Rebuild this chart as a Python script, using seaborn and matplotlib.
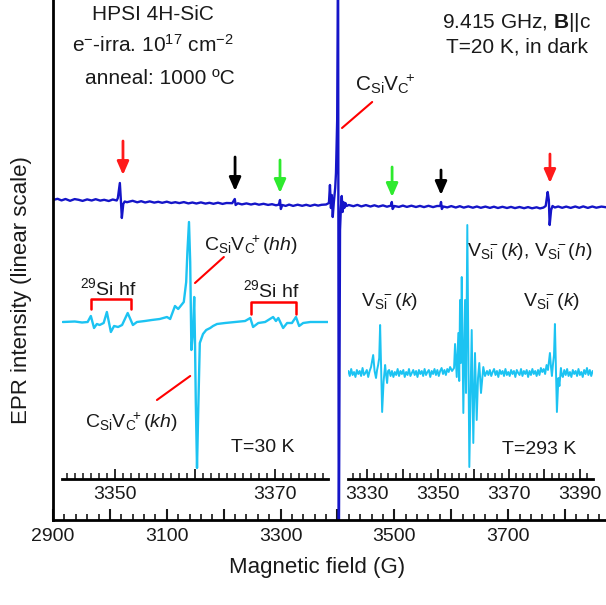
import numpy as np
import pandas as pd
import matplotlib
matplotlib.use('Agg')
import matplotlib.pyplot as plt
from matplotlib.ticker import MultipleLocator
import seaborn as sns

# main spectrum, T=20 K (field in G, signal in arbitrary units)
main_field = [2900, 2908, 2915, 2922, 2930, 2938, 2945, 2952, 2960, 2968,
              2975, 2983, 2990, 2998, 3005, 3012, 3014,
              3017.5, 3019.3, 3021, 3023.5, 3026, 3030, 3040, 3048, 3055, 3062, 3070, 3078, 3085,
              3092, 3100, 3108, 3115, 3122, 3130, 3138, 3145, 3152, 3160, 3168, 3175, 3182, 3190,
              3198, 3205, 3215, 3219.5,
              3221, 3225, 3232, 3240, 3248, 3255, 3262, 3270, 3278, 3285, 3292, 3297, 3299, 3300.5, 3303,
              3309, 3315, 3322, 3330, 3338, 3345, 3352, 3360, 3366, 3372, 3380, 3385, 3386.8, 3388.5, 3390,
              3391.7, 3393.5, 3396, 3397.4, 3399.5, 3401.1, 3402.3, 3404.5, 3406, 3407.5,
              3409, 3410.5, 3412, 3414, 3416, 3420, 3428, 3435, 3442, 3450, 3458, 3465, 3472, 3480,
              3487, 3494, 3495.5, 3497, 3500, 3508, 3515, 3522, 3530, 3538, 3545, 3552, 3560, 3568,
              3575, 3580.6,
              3582, 3583.5, 3586, 3593, 3600, 3608, 3615, 3622, 3630, 3638, 3645, 3652, 3660, 3668,
              3675, 3682, 3690, 3698,
              3705, 3712, 3720, 3728, 3735, 3742, 3750, 3756, 3762, 3766, 3769.5, 3771.5, 3773, 3775.5,
              3778, 3782, 3788, 3795, 3802, 3810, 3818, 3825, 3832, 3840, 3848, 3855, 3864, 3874]
main_signal = [0, 1.2, -0.4, 1, -0.8, 0.9, 0.2, -0.9, 0.6, -0.5,
               0.8, -0.6, 0.2, -1, 0.5, -0.5, 2,
               17, 0, -18, -4, -1.5, -2.2, -0.8, -2.3, -1.2, -2.5, -1.4, -2.6, -1.8,
               -2.8, -1.7, -3, -2.2, -3.1, -2.1, -3.4, -2.5, -3.5, -2.4, -3.6, -2.8, -3.8, -2.7,
               -3.9, -3, -3.2, 1,
               -5, -3.3, -4.4, -3.4, -4.5, -3.6, -4.7, -3.8, -4.9, -4.2, -5.3, -4.6, 0, -9, -5,
               -5.9, -4.6, -5.9, -4.7, -5.8, -4.8, -5.9, -4.7, -5.6, -4.8, -4.5, -3, 15, -8, 5,
               -17, -3, 12, 27, 80, 260, -380, -30, -8, 4,
               -12, -2, -8, -3, -6, -5, -6.2, -4.9, -6.4, -5.1, -6.5, -5.3, -6.6, -5.4,
               -6.7, -5.6, -2, -9, -6, -6.9, -5.6, -6.9, -5.7, -7, -5.9, -7.1, -5.8, -7.1,
               -6, -6,
               -2, -9, -6.5, -7.4, -6.1, -7.5, -6.2, -7.6, -6.4, -7.7, -6.5, -7.8, -6.6, -7.9,
               -6.7, -8, -6.8, -8,
               -6.9, -8.1, -7, -8.2, -7.1, -8.3, -7.3, -8.4, -7.6, -6, 8, 0, -25, -10,
               -6, -7.5, -6.5, -7.8, -6.6, -7.9, -6.5, -7.8, -6.4, -7.9, -6.5, -7.7, -6.6, -7.4]

# inset 1, T=30 K
lt_field = [3343.5, 3345.0, 3345.9, 3346.6, 3347.0, 3347.4, 3347.75, 3348.1, 3348.6, 3349.0,
            3349.5, 3349.9, 3350.4, 3350.9, 3351.6, 3352.25, 3352.75, 3353.75, 3354.6, 3355.6,
            3356.5, 3356.9, 3357.5, 3357.9, 3358.1, 3358.6, 3358.9, 3359.05, 3359.25, 3359.4,
            3359.55, 3359.75, 3359.9, 3360.0, 3360.1, 3360.25, 3360.4, 3360.6, 3361.0, 3361.4,
            3361.9, 3362.25, 3362.75, 3363.75, 3365.0, 3366.25, 3366.9, 3367.25, 3367.9, 3368.75,
            3369.75, 3370.1, 3370.4, 3371.0, 3371.5, 3372.1, 3372.6, 3373.0, 3373.5, 3374.4,
            3375.6, 3376.6]
lt_signal = [0, 0.5, -0.5, 0, 6, -6, -2, -3, -1, 10,
             -10, -4, -5, -3, 9, -3, 0, 1, 2, 3,
             5, 3, 16, 13, 15, 20, 40, 70, 100, 60,
             -28, -10, 25, -20, -80, -146, -90, -21, -12, -8,
             -6, -4, -2, -1, 0, 1, 4, -5, -1, 0,
             5, 1, 4, -6, -1, -1, 5, -4, -1, 0,
             0, 0]

# inset 2, T=293 K
rt_field = [3324.7, 3325.1, 3325.5, 3325.9, 3326.3, 3326.7, 3327.1, 3327.5, 3327.9, 3328.3,
            3328.7, 3329.1, 3329.5, 3329.9, 3330.3, 3330.7, 3331.1,
            3331.7, 3332.1, 3332.5, 3332.8, 3333.1, 3333.4, 3333.66, 3333.94, 3334.23, 3334.65,
            3335.07, 3335.35, 3335.63, 3335.9, 3336.2,
            3336.6, 3337.0, 3337.4, 3337.8, 3338.2, 3338.6, 3339.0, 3339.4, 3339.8, 3340.2,
            3340.6, 3341.0, 3341.4, 3341.8, 3342.2, 3342.6, 3343.0, 3343.4, 3343.8, 3344.2,
            3344.6, 3345.0, 3345.4, 3345.8, 3346.2, 3346.6, 3347.0, 3347.4, 3347.8, 3348.2,
            3348.6, 3349.0, 3349.4, 3349.8, 3350.2, 3350.6, 3351.0, 3351.4, 3351.8, 3352.2,
            3352.6, 3353.0, 3353.4,
            3353.94, 3354.51, 3354.79, 3355.27, 3355.72, 3355.97, 3356.20, 3356.42, 3356.68, 3357.13,
            3357.61, 3357.89, 3358.25, 3358.82, 3359.49, 3359.94, 3360.42, 3360.90, 3361.27, 3361.63,
            3362.11, 3362.76, 3363.24, 3363.80,
            3364.2, 3364.6, 3365.0, 3365.4, 3365.8, 3366.2, 3366.6, 3367.0, 3367.4, 3367.8,
            3368.2, 3368.6, 3369.0, 3369.4, 3369.8, 3370.2, 3370.6, 3371.0, 3371.4, 3371.8,
            3372.2, 3372.6, 3373.0, 3373.4, 3373.8, 3374.2, 3374.6, 3375.0, 3375.4, 3375.8,
            3376.2, 3376.6, 3377.0, 3377.4, 3377.8, 3378.2, 3378.6, 3379.0, 3379.4, 3379.8,
            3380.2, 3380.6, 3381.0,
            3381.55, 3381.85, 3382.11, 3382.39, 3382.7, 3382.96, 3383.24, 3383.52, 3383.94, 3384.23,
            3384.65, 3384.9, 3385.2,
            3385.6, 3386.0, 3386.4, 3386.8, 3387.2, 3387.6, 3388.0, 3388.4, 3388.8, 3389.2,
            3389.6, 3390.0, 3390.4, 3390.8, 3391.2, 3391.6, 3392.0, 3392.4, 3392.8, 3393.2,
            3393.6]
rt_signal = [2, -3, 4, -2, 1, -4, 3, -1, 2, -3,
             5, -2, 0, 3, -4, 2, 6,
             18, 2, -5, 3, 8, 15, 48, 5, -39, -8,
             8, -2, -10, 2, 3,
             -3, 2, -4, 1, -2, 4, -3, 2, -1, 3,
             -4, 1, -2, 4, -3, 0, 3, -2, 2, -4,
             3, -1, 2, -3, 4, -2, 1, 3, -4, 2,
             -1, 4, -2, 3, -3, 2, 5, -1, 3, -2,
             4, 1, 6,
             2, 5, 29, -4, 40, -8, 73, 10, 96, -40,
             73, -20, 148, -94, 43, -70, 20, -47, -5, 10,
             -20, 6, -3, 2,
             -2, 3, -3, 1, 4, -2, 2, -4, 3, -1,
             2, -3, 4, -2, 1, -3, 3, -1, 2, -4,
             3, 0, -2, 4, -3, 2, -1, 3, -4, 2,
             -2, 4, -1, 2, -3, 3, -2, 5, 1, 4,
             -1, 8, 3,
             20, 6, -3, 8, 18, 49, 5, -39, -5, -13,
             5, -2, -4,
             3, -2, 4, -3, 1, -4, 3, -1, 2, -3,
             4, -2, 1, -4, 3, -1, 5, -2, 3, -3,
             2]

main_ticks = [2900, 3000, 3100, 3200, 3300, 3400, 3500, 3600, 3700, 3800]
main_labels = ['2900', '', '3100', '', '3300', '', '3500', '', '3700', '']
lt_ticks = [3350, 3360, 3370]
lt_labels = ['3350', '', '3370']
rt_ticks = [3330, 3340, 3350, 3360, 3370, 3380, 3390]
rt_labels = ['3330', '', '3350', '', '3370', '', '3390']

# arrows: (field, tail, tip, colour)
arrow_field = [3023, 3220, 3299, 3496, 3582, 3773.5]
arrow_tail = [59, 43, 40, 33, 30, 46]
arrow_tip = [25, 9, 7, 3, 5, 17]
arrow_color = ['#ff1a1a', 'black', '#2eea2e', '#2eea2e', 'black', '#ff1a1a']

sns.set_style('ticks')
plt.rcParams['font.family'] = ['Liberation Sans', 'DejaVu Sans']
plt.rcParams['mathtext.fontset'] = 'custom'
plt.rcParams['mathtext.rm'] = 'Liberation Sans'
plt.rcParams['mathtext.it'] = 'Liberation Sans:italic'
plt.rcParams['mathtext.bf'] = 'Liberation Sans:bold'

dark_blue = '#1515c8'
light_blue = '#1cc3f2'
txt = '#1a1a1a'

csv = r'C$_\mathrm{Si}$V$_\mathrm{C}\!\!{}^+$'
# labels followed by a bracket, kept in one math block so no gap opens
csv_b = r'C$_\mathrm{Si}$V$_\mathrm{C}\!\!{}^+\mathrm{(}\mathit{%s}\mathrm{)}$'
vsi_b = r'V$_\mathrm{Si}\!\!{}^-\mathrm{(}\mathit{%s}\mathrm{)}$'

fig = plt.figure(figsize=(6.06, 6.05), dpi=100)
ax = fig.add_axes([53/606, 85/605, 553/606, 520/605])

df_main = pd.DataFrame({'field': main_field, 'signal': main_signal})
sns.lineplot(data=df_main, x='field', y='signal', ax=ax, color=dark_blue,
             lw=1.7, sort=False, estimator=None)
ax.set_xlim(2900, 3872)
ax.set_ylim(-320, 200)
ax.set_xticks(main_ticks)
ax.set_xticklabels(main_labels)
ax.xaxis.set_minor_locator(MultipleLocator(20))
ax.tick_params(axis='x', which='major', direction='in', length=8, width=1.5,
               labelsize=14, pad=6, colors=txt)
ax.tick_params(axis='x', which='minor', direction='in', length=4.5, width=1.3)
ax.tick_params(axis='y', left=False, labelleft=False)
ax.set_xlabel('')
ax.set_ylabel('')
for s in ['top', 'right']:
    ax.spines[s].set_visible(False)
for s in ['left', 'bottom']:
    ax.spines[s].set_linewidth(2)
    ax.spines[s].set_color('black')

for f, t0, t1, c in zip(arrow_field, arrow_tail, arrow_tip, arrow_color):
    ax.annotate('', xy=(f, t1), xytext=(f, t0),
                arrowprops=dict(arrowstyle='-|>,head_length=0.8,head_width=0.35',
                                color=c, lw=2, shrinkA=0, shrinkB=0))

ax.text(3075, 185, 'HPSI 4H-SiC', ha='center', va='center', fontsize=15, color=txt)
ax.text(3075, 155, r'e$^{-}$-irra. 10$^{17}$ cm$^{-2}$', ha='center', va='center',
        fontsize=15, color=txt)
ax.text(3088, 122, 'anneal: 1000 ºC', ha='center', va='center', fontsize=15, color=txt)
ax.text(3715, 177, r'9.415 GHz, $\mathbf{B}$||c', ha='center', va='center',
        fontsize=15, color=txt)
ax.text(3715, 153, 'T=20 K, in dark', ha='center', va='center', fontsize=15, color=txt)
ax.text(3484, 116, csv, ha='center', va='center', fontsize=15, color=txt)
ax.plot([3408, 3461], [72, 98], color='red', lw=1.5)

fig.text(22/606, 1 - 290/605, 'EPR intensity (linear scale)', rotation=90,
         ha='center', va='center', fontsize=16, color=txt)
fig.text(317/606, 1 - 568/605, 'Magnetic field (G)', ha='center', va='center',
         fontsize=16, color=txt)

# left inset
ax1 = fig.add_axes([62/606, 126/605, 266/606, 264/605])
ax1.set_facecolor('none')
df_lt = pd.DataFrame({'field': lt_field, 'signal': lt_signal})
sns.lineplot(data=df_lt, x='field', y='signal', ax=ax1, color=light_blue,
             lw=1.7, sort=False, estimator=None)
ax1.set_xlim(3343.4, 3376.6)
ax1.set_ylim(-157, 107)

ax1.text(3349.25, 34, r'$^{29}$Si hf', ha='center', va='center', fontsize=14, color=txt)
ax1.plot([3347.0, 3347.0, 3352.0, 3352.0], [13, 23, 23, 13], color='red', lw=1.8)
ax1.text(3369.6, 32, r'$^{29}$Si hf', ha='center', va='center', fontsize=14, color=txt)
ax1.plot([3367.0, 3367.0, 3372.6, 3372.6], [8, 20, 20, 8], color='red', lw=1.8)
ax1.text(3367.0, 77, csv_b % 'hh', ha='center', va='center', fontsize=14, color=txt)
ax1.plot([3360.0, 3363.6], [39, 65], color='red', lw=1.5)
ax1.text(3352.0, -100, csv_b % 'kh', ha='center', va='center', fontsize=14, color=txt)
ax1.plot([3355.25, 3359.4], [-78, -54], color='red', lw=1.5)
ax1.text(3368.5, -126, 'T=30 K', ha='center', va='center', fontsize=14, color=txt)

# right inset
ax2 = fig.add_axes([348/606, 126/605, 245/606, 264/605])
ax2.set_facecolor('none')
df_rt = pd.DataFrame({'field': rt_field, 'signal': rt_signal})
sns.lineplot(data=df_rt, x='field', y='signal', ax=ax2, color=light_blue,
             lw=1.4, sort=False, estimator=None)
ax2.set_xlim(3324.6, 3393.7)
ax2.set_ylim(-106, 158)

ax2.text(3375.9, 121, vsi_b % 'k' + ', ' + vsi_b % 'h',
         ha='center', va='center', fontsize=14, color=txt)
ax2.text(3336.2, 72, vsi_b % 'k', ha='center', va='center', fontsize=14, color=txt)
ax2.text(3382.1, 72, vsi_b % 'k', ha='center', va='center', fontsize=14, color=txt)
ax2.text(3378.5, -76, 'T=293 K', ha='center', va='center', fontsize=14, color=txt)

for a, ticks, labels, minor in [(ax1, lt_ticks, lt_labels, 1), (ax2, rt_ticks, rt_labels, 2)]:
    a.set_xticks(ticks)
    a.set_xticklabels(labels)
    a.xaxis.set_minor_locator(MultipleLocator(minor))
    a.tick_params(axis='x', which='major', direction='in', length=7, width=1.3,
                  labelsize=14, pad=5, colors=txt)
    a.tick_params(axis='x', which='minor', direction='in', length=4, width=1.2)
    a.tick_params(axis='y', left=False, labelleft=False)
    a.set_xlabel('')
    a.set_ylabel('')
    for s in ['top', 'right', 'left']:
        a.spines[s].set_visible(False)
    a.spines['bottom'].set_linewidth(2)
    a.spines['bottom'].set_color('black')

fig.savefig('out.png', dpi=100)
